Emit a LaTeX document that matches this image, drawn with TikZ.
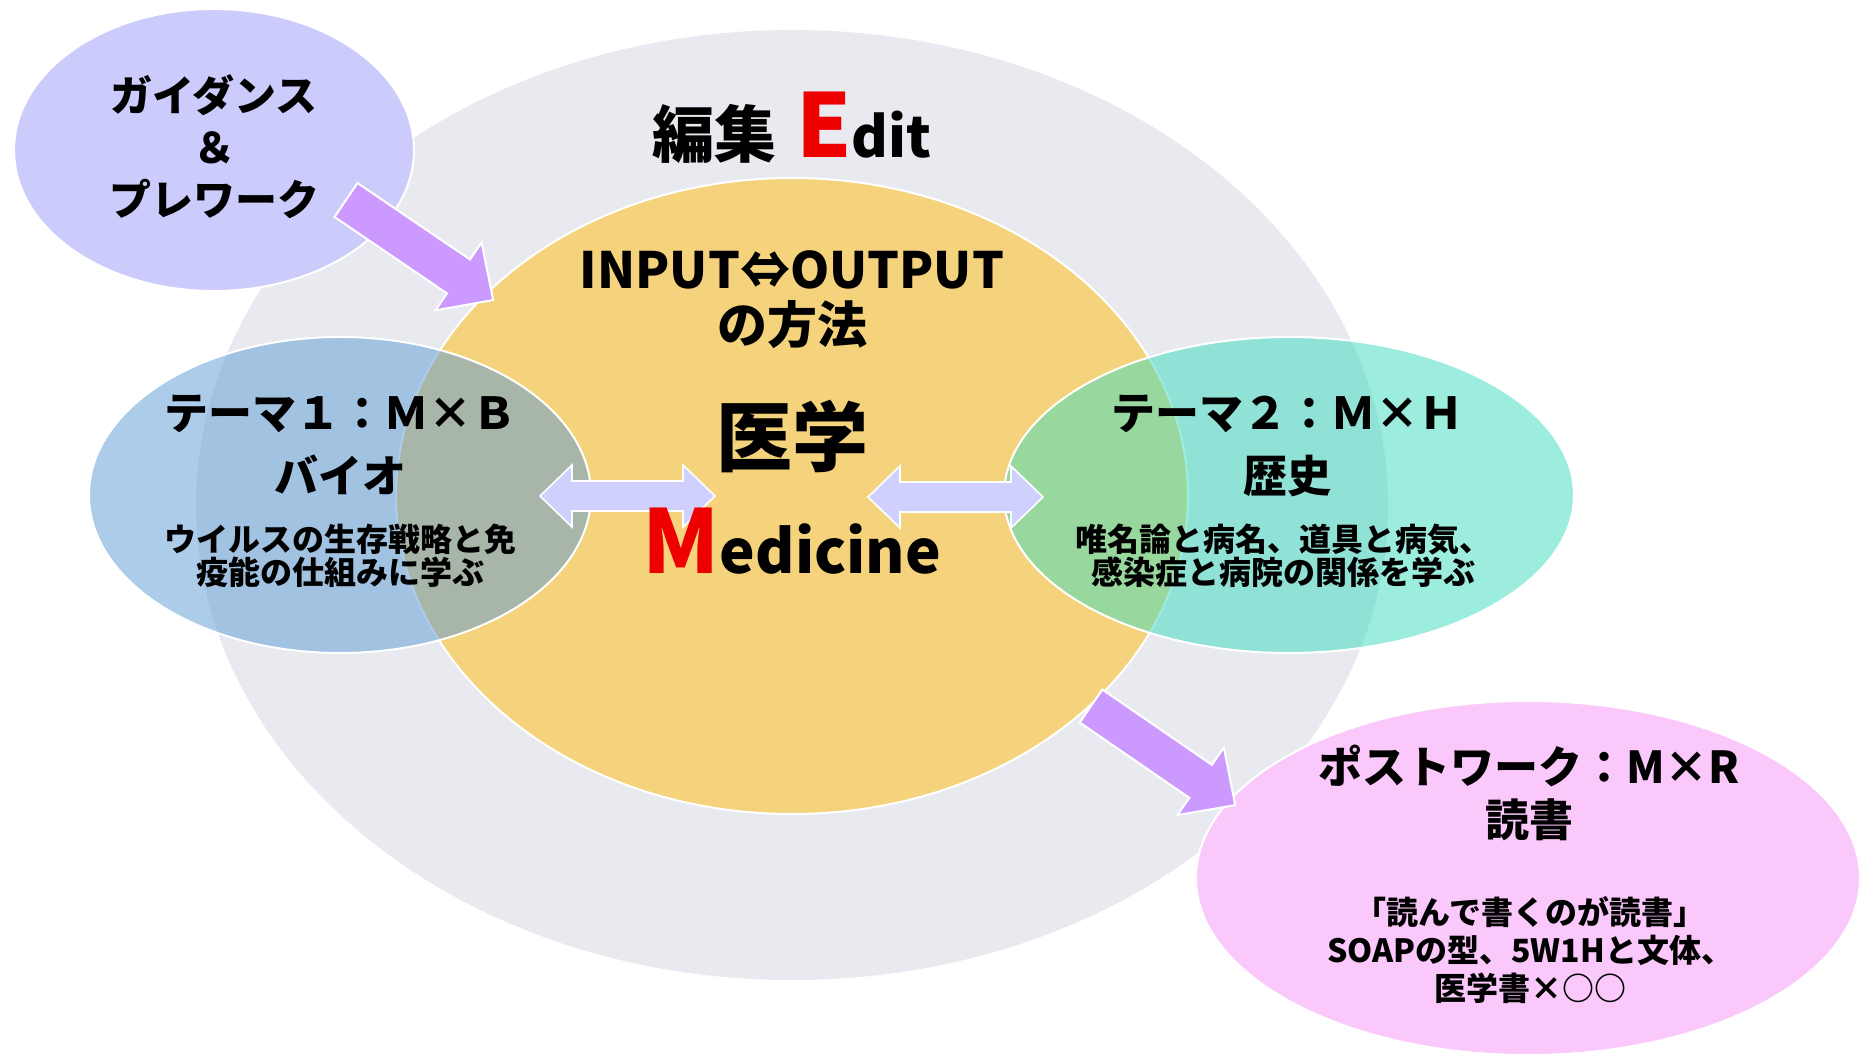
\documentclass[tikz,border=0pt]{standalone}
\usepackage{fontspec}
\setmainfont{Noto Sans CJK JP}
\usetikzlibrary{shapes.geometric}
\definecolor{grayback}{RGB}{232,234,239}
\definecolor{yellowc}{RGB}{245,211,125}
\definecolor{bluec}{RGB}{91,155,213}
\definecolor{tealc}{RGB}{60,220,190}
\definecolor{lavc}{RGB}{204,204,252}
\definecolor{pinkc}{RGB}{250,200,250}
\definecolor{arrowc}{RGB}{204,153,255}
\definecolor{darrowc}{RGB}{208,208,255}
\definecolor{redc}{RGB}{238,0,0}
\newcommand{\fsz}[2]{\bfseries\fontsize{#1}{#2}\selectfont}
\begin{document}
\begin{tikzpicture}[x=0.5pt,y=-0.5pt,
  blob/.style={ellipse, inner sep=0pt, draw=white, line width=1pt},
  lbl/.style={align=center, inner sep=0pt, text=black},
  blockarrow/.style={fill=arrowc, draw=white, line width=1pt, line join=miter},
  dblarrow/.style={fill=darrowc, draw=white, line width=0.8pt, line join=miter}]
\clip (0,0) rectangle (1863,1058);
\fill[white] (0,0) rectangle (1863,1058);
% ellipses
\node[ellipse, inner sep=0pt, fill=grayback, minimum width=596pt, minimum height=475pt] (edit) at (792,505) {};
\node[blob, fill=yellowc, minimum width=396pt, minimum height=318pt] (med) at (792,496) {};
\node[blob, fill=bluec, fill opacity=0.5, minimum width=251pt, minimum height=158pt] (bio) at (340,495) {};
\node[blob, fill=tealc, fill opacity=0.5, minimum width=285pt, minimum height=158pt] (hist) at (1289,495) {};
\node[blob, fill=lavc, minimum width=200pt, minimum height=141pt] (guide) at (214,150) {};
\node[blob, fill=pinkc, minimum width=332pt, minimum height=177pt] (post) at (1528,878) {};
% diagonal block arrows
\coordinate (a1tail) at (346,200);
\coordinate (a2tail) at (1091,706);
\begin{scope}[shift={(a1tail)}, rotate=-34.2]
  \draw[blockarrow] (0,-20.5) -- (136,-20.5) -- (136,-41) -- (178,0) -- (136,41) -- (136,20.5) -- (0,20.5) -- cycle;
\end{scope}
\begin{scope}[shift={(a2tail)}, rotate=-34.5]
  \draw[blockarrow] (0,-20) -- (133,-20) -- (133,-41) -- (175,0) -- (133,41) -- (133,20) -- (0,20) -- cycle;
\end{scope}
% double arrows
\draw[dblarrow] (540,496) -- (572,465) -- (572,481) -- (683,481) -- (683,465) -- (715,496) -- (683,527) -- (683,511) -- (572,511) -- (572,527) -- cycle;
\draw[dblarrow] (868,497) -- (900,466) -- (900,482) -- (1011,482) -- (1011,466) -- (1043,497) -- (1011,528) -- (1011,512) -- (900,512) -- (900,528) -- cycle;
% center texts
\node[lbl, anchor=base, font=\fsz{31}{34}] (edittxt) at (792,158) {編集\hspace{10pt}{\fontsize{44}{48}\selectfont\color{redc}E}{\fontsize{28}{32}\selectfont dit}};
\node[lbl, anchor=base, font=\fsz{25}{30}] (io) at (792,289) {INPUT⇔OUTPUT};
\node[lbl, anchor=base, font=\fsz{25}{30}] (method) at (792,344) {の方法};
\node[lbl, anchor=base, font=\fsz{38}{42}] (igaku) at (792,466) {医学};
\node[lbl, anchor=base, font=\fsz{30}{34}] (medtxt) at (792,574) {{\fontsize{44}{48}\selectfont\color{redc}M}edicine};
% left theme
\node[lbl, anchor=base, font=\fsz{22}{26}] (t1) at (340,430) {テーマ１：Ｍ×Ｂ};
\node[lbl, anchor=base, font=\fsz{22}{26}] (t1b) at (340,493) {バイオ};
\node[lbl, font=\fsz{16}{16.5}] (t1c) at (340,556) {ウイルスの生存戦略と免\\疫能の仕組みに学ぶ};
% right theme
\node[lbl, anchor=base, font=\fsz{22}{26}] (t2) at (1287,430) {テーマ２：Ｍ×Ｈ};
\node[lbl, anchor=base, font=\fsz{22}{26}] (t2b) at (1287,493) {歴史};
\node[lbl, font=\fsz{16}{16.5}] (t2c) at (1283,556) {唯名論と病名、道具と病気、\\感染症と病院の関係を学ぶ};
% guidance
\node[lbl, font=\fsz{21}{26}] (gtxt) at (214,147) {ガイダンス\\＆\\プレワーク};
% post work
\node[lbl, font=\fsz{22}{26.5}] (ptxt) at (1529,793) {ポストワーク：M×R\\読書};
\node[lbl, font=\fsz{16}{19}] (ptxt2) at (1530,950) {「読んで書くのが読書」\\SOAPの型、5W1Hと文体、\\医学書×○○};
\end{tikzpicture}
\end{document}
